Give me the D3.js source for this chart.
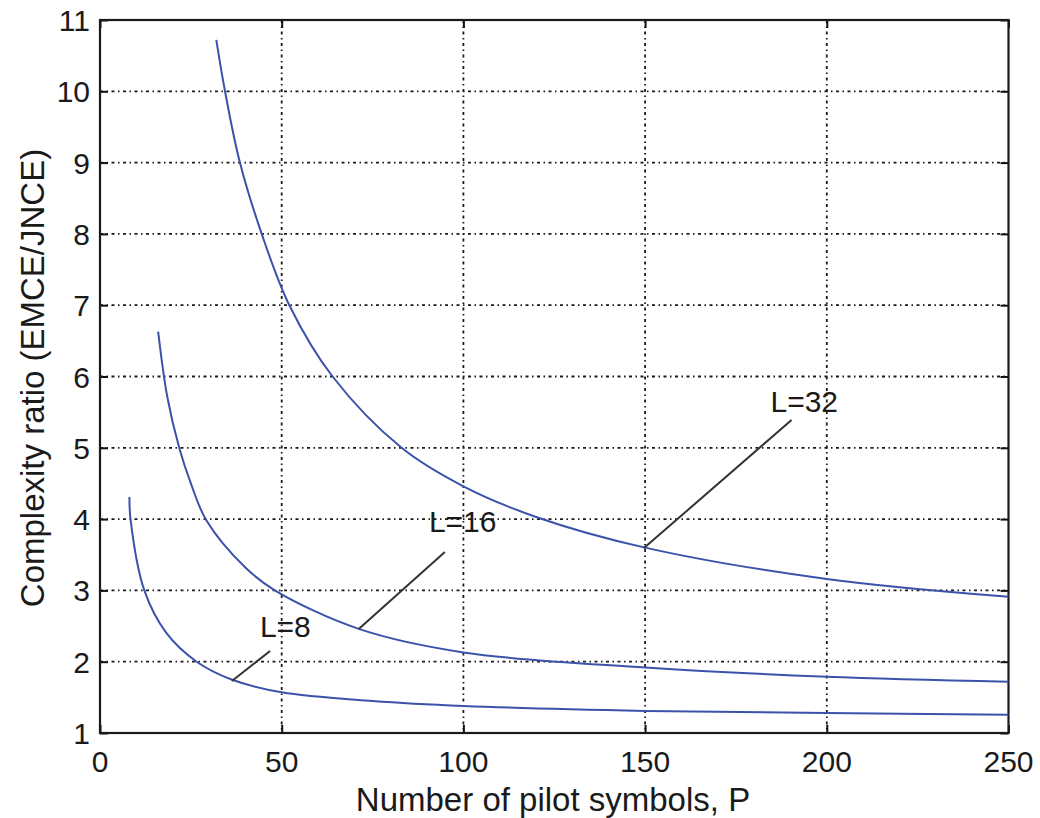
<!DOCTYPE html>
<html>
<head>
<meta charset="utf-8">
<script src="https://cdn.jsdelivr.net/npm/d3@7"></script>
<style>
  body { margin: 0; background: #fff; }
  text { font-family: "Liberation Sans", Arial, sans-serif; fill: #1a1a1a; }
</style>
</head>
<body>
<svg id="chart" width="1040" height="818"></svg>
<script>
// values
var pilotL8 = [8.1, 8.4, 12.2, 18.3, 26.6, 36.2, 50, 75, 100, 150, 200, 250];
var ratioL8 = [4.31, 4.0, 3.0, 2.4, 2.0, 1.75, 1.57, 1.45, 1.38, 1.31, 1.28, 1.255];

var pilotL16 = [16, 18.5, 21.8, 25, 29.3, 40, 48.1, 71.2, 100, 150, 200, 250];
var ratioL16 = [6.63, 5.72, 5.0, 4.5, 3.98, 3.32, 3.0, 2.46, 2.13, 1.92, 1.79, 1.72];

var pilotL32 = [32, 34.4, 38.5, 44.5, 52.1, 64, 83, 100, 120, 150, 200, 250];
var ratioL32 = [10.72, 10.0, 9.0, 8.0, 7.0, 6.0, 5.0, 4.46, 4.03, 3.60, 3.16, 2.91];

var seriesNames = ["L=8", "L=16", "L=32"];
// annotation arrows: [from P, from ratio, to P, to ratio]
var labelLines = [
	[36.3, 1.73, 46.8, 2.15],
	[71.2, 2.46, 94.9, 3.54],
	[149.6, 3.59, 190.3, 5.39]
];
var labelPos = [[44.0, 2.35], [90.5, 3.82], [184.5, 5.5]];

var xTicks = [0, 50, 100, 150, 200, 250];
var yTicks = [1, 2, 3, 4, 5, 6, 7, 8, 9, 10, 11];

var plotLeft = 100, plotRight = 1008.5, plotTop = 20, plotBottom = 733;

var svg = d3.select("#chart");

var x = d3.scaleLinear().domain([0, 250]).range([plotLeft, plotRight]);
var y = d3.scaleLinear().domain([1, 11]).range([plotBottom, plotTop]);

/* grid, dotted like matlab's ':' */
var gridDash = "3,3.5,1.5,3.5";

svg.append("g")
	.selectAll("line")
	.data(xTicks.slice(1, -1))
	.enter()
	.append("line")
	.attr("x1", function(d) { return x(d); })
	.attr("x2", function(d) { return x(d); })
	.attr("y1", plotTop)
	.attr("y2", plotBottom)
	.attr("stroke", "#1a1a1a")
	.attr("stroke-width", 1.8)
	.attr("stroke-dasharray", gridDash);

svg.append("g")
	.selectAll("line")
	.data(yTicks.slice(1, -1))
	.enter()
	.append("line")
	.attr("x1", plotLeft)
	.attr("x2", plotRight)
	.attr("y1", function(d) { return y(d); })
	.attr("y2", function(d) { return y(d); })
	.attr("stroke", "#1a1a1a")
	.attr("stroke-width", 1.8)
	.attr("stroke-dasharray", gridDash);

/* axes: inward ticks on all four sides */
var tickLen = 8;
var xAxisB = svg.append("g")
	.attr("transform", "translate(0," + plotBottom + ")")
	.call(d3.axisTop(x).tickValues(xTicks).tickSize(tickLen).tickFormat(""));
var xAxisT = svg.append("g")
	.attr("transform", "translate(0," + plotTop + ")")
	.call(d3.axisBottom(x).tickValues(xTicks).tickSize(tickLen).tickFormat(""));
var yAxisL = svg.append("g")
	.attr("transform", "translate(" + plotLeft + ",0)")
	.call(d3.axisRight(y).tickValues(yTicks).tickSize(tickLen).tickFormat(""));
var yAxisR = svg.append("g")
	.attr("transform", "translate(" + plotRight + ",0)")
	.call(d3.axisLeft(y).tickValues(yTicks).tickSize(tickLen).tickFormat(""));

[xAxisB, xAxisT, yAxisL, yAxisR].forEach(function(a) {
	a.select(".domain").remove();
	a.selectAll(".tick line").attr("stroke", "#111").attr("stroke-width", 2);
});

svg.append("rect")
	.attr("x", plotLeft)
	.attr("y", plotTop)
	.attr("width", plotRight - plotLeft)
	.attr("height", plotBottom - plotTop)
	.attr("fill", "none")
	.attr("stroke", "#1a1a1a")
	.attr("stroke-width", 2.2);

/* tick labels */
svg.append("g")
	.selectAll("text")
	.data(xTicks)
	.enter()
	.append("text")
	.attr("x", function(d) { return x(d); })
	.attr("y", 772)
	.attr("text-anchor", "middle")
	.attr("font-size", 30)
	.text(function(d) { return d; });

svg.append("g")
	.selectAll("text")
	.data(yTicks)
	.enter()
	.append("text")
	.attr("x", 90)
	.attr("y", function(d) { return y(d) + 11; })
	.attr("text-anchor", "end")
	.attr("font-size", 30)
	.text(function(d) { return d; });

/* axis titles */
svg.append("text")
	.attr("x", 553)
	.attr("y", 811)
	.attr("text-anchor", "middle")
	.attr("font-size", 33)
	.text("Number of pilot symbols, P");

svg.append("text")
	.attr("transform", "translate(44,378) rotate(-90)")
	.attr("text-anchor", "middle")
	.attr("font-size", 33)
	.text("Complexity ratio (EMCE/JNCE)");

/* curves */
var line = d3.line()
	.x(function(d) { return x(d[0]); })
	.y(function(d) { return y(d[1]); })
	.curve(d3.curveCatmullRom.alpha(0.5));

var curves = [
	d3.zip(pilotL8, ratioL8),
	d3.zip(pilotL16, ratioL16),
	d3.zip(pilotL32, ratioL32)
];

svg.append("g")
	.selectAll("path")
	.data(curves)
	.enter()
	.append("path")
	.attr("d", line)
	.attr("fill", "none")
	.attr("stroke", "#3b52ab")
	.attr("stroke-width", 2);

/* annotations */
svg.append("g")
	.selectAll("line")
	.data(labelLines)
	.enter()
	.append("line")
	.attr("x1", function(d) { return x(d[0]); })
	.attr("y1", function(d) { return y(d[1]); })
	.attr("x2", function(d) { return x(d[2]); })
	.attr("y2", function(d) { return y(d[3]); })
	.attr("stroke", "#333")
	.attr("stroke-width", 2);

svg.append("g")
	.selectAll("text")
	.data(seriesNames)
	.enter()
	.append("text")
	.attr("x", function(d, i) { return x(labelPos[i][0]); })
	.attr("y", function(d, i) { return y(labelPos[i][1]); })
	.attr("font-size", 30)
	.text(function(d) { return d; });
</script>
</body>
</html>
